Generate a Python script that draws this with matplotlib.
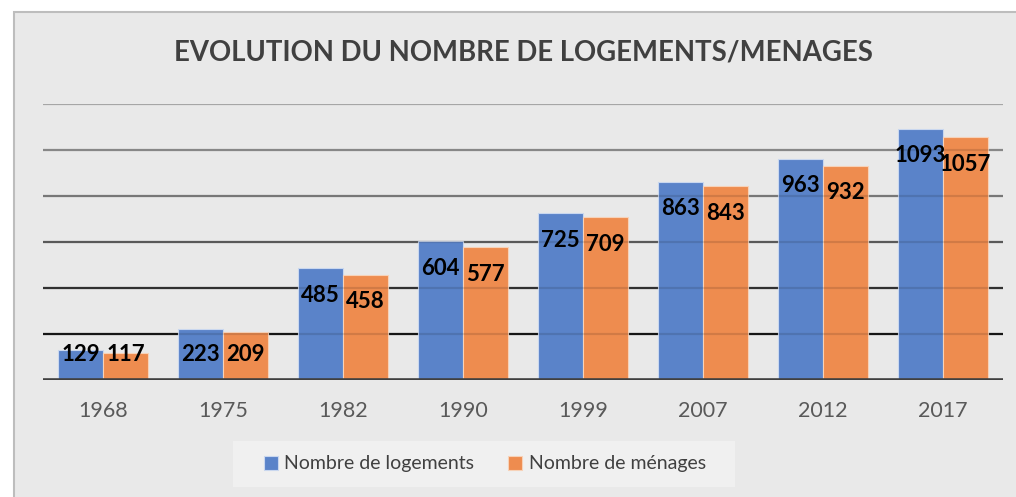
import matplotlib
matplotlib.use("Agg")
import matplotlib.pyplot as plt
import numpy as np
from matplotlib.patches import Rectangle

# donnees
annees = ["1968", "1975", "1982", "1990", "1999", "2007", "2012", "2017"]
logements = [129, 223, 485, 604, 725, 863, 963, 1093]
menages = [117, 209, 458, 577, 709, 843, 932, 1057]
series_noms = ["Nombre de logements", "Nombre de ménages"]
grid_vals = [200, 400, 600, 800, 1000, 1200]

BLEU = "#5a83c9"
ORANGE = "#ee8c4f"
FOND = "#e9e9e9"
plt.rcParams["font.family"] = ["Lato", "DejaVu Sans"]

fig = plt.figure(figsize=(10.16, 4.97), dpi=100)
fig.patch.set_facecolor("white")
W, H = 1016, 497
# cadre exterieur du graphique
fig.patches.append(Rectangle((14 / W, -0.05), 1.1, 1 - 12 / H + 0.05,
                             transform=fig.transFigure, facecolor=FOND,
                             edgecolor="#bdbdbd", linewidth=1.5, zorder=-2))
# fond de la legende
fig.patches.append(Rectangle((233 / W, 1 - 487 / H), 502 / W, 46 / H,
                             transform=fig.transFigure, facecolor="#f0f0f0",
                             edgecolor="none", zorder=-1))

ax = fig.add_axes([43 / W, 1 - 380 / H, 960 / W, 276 / H])
ax.set_facecolor("none")
x = np.arange(len(annees))
w = 0.375

# lignes de grille (teinte variable comme sur l'original)
grid_cols = ["#1a1a1a", "#383838", "#666666", "#888888", "#9a9a9a", "#bdbdbd"]
for g, c in zip(grid_vals, grid_cols):
    ax.axhline(g, color=c, lw=1.6, zorder=1)
    ax.axhline(g, color="black", lw=1.6, alpha=0.12, zorder=4)

ax.bar(x - w / 2, logements, w, color=BLEU, edgecolor="#c9d7ef", linewidth=0.8,
       zorder=2, label=series_noms[0])
ax.bar(x + w / 2, menages, w, color=ORANGE, edgecolor="#f7d2b8", linewidth=0.8,
       zorder=2, label=series_noms[1])
ax.axhline(0, color="#404040", lw=2.6, zorder=5)

for xs, vals in [(x - w / 2, logements), (x + w / 2, menages)]:
    for xi, v in zip(xs, vals):
        ax.text(xi, max(v - 118, 113), str(v), ha="center", va="center",
                fontsize=16, fontweight="bold", color="black", zorder=6)

ax.set_xlim(-0.5, len(annees) - 0.5)
ax.set_ylim(0, 1200)
ax.set_xticks(x)
ax.set_xticklabels(annees, fontsize=15.5, color="#595959")
ax.tick_params(axis="x", length=0, pad=15)
ax.set_yticks([])
for s in ax.spines.values():
    s.set_visible(False)

fig.text(523 / W, 1 - 52 / H, "EVOLUTION DU NOMBRE DE LOGEMENTS/MENAGES",
         ha="center", va="center", fontsize=19.8, fontweight="bold", color="#404040")

leg = fig.legend(loc="center", bbox_to_anchor=(485 / W, 1 - 464 / H), ncol=2,
                 fontsize=14, frameon=False, handlelength=0.7,
                 handleheight=0.7, handletextpad=0.35, columnspacing=1.75)
for t in leg.get_texts():
    t.set_color("#404040")

fig.savefig("out.png", dpi=100)
